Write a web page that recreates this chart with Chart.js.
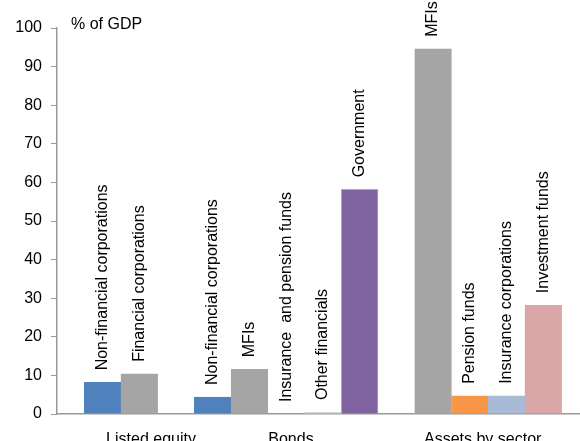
<!DOCTYPE html>
<html>
<head>
<meta charset="utf-8">
<script src="https://cdn.jsdelivr.net/npm/chart.js@4/dist/chart.umd.min.js"></script>
<style>
  html, body { margin: 0; padding: 0; background: #fff; }
  #wrap { width: 580px; height: 441px; position: relative; }
</style>
</head>
<body>
<div id="wrap"><canvas id="chart"></canvas></div>
<script>
// Chart data
const groups = ['Listed equity', 'Bonds', 'Assets by sector'];
const barGroup = [0, 0, 1, 1, 1, 1, 1, 2, 2, 2, 2];
const barLabels = [
  'Non-financial corporations', 'Financial corporations',
  'Non-financial corporations', 'MFIs', 'Insurance  and pension funds', 'Other financials', 'Government',
  'MFIs', 'Pension funds', 'Insurance corporations', 'Investment funds'
];
const values = [8.2, 10.4, 4.4, 11.6, 0, 0.5, 58.2, 94.6, 4.7, 4.7, 28.2];
const yTicks = [0, 10, 20, 30, 40, 50, 60, 70, 80, 90, 100];

const barColors = ['#4f81bd', '#a5a5a5', '#4f81bd', '#a5a5a5', '#a5a5a5', '#d9d9d9', '#8064a2',
  '#a5a5a5', '#f79646', '#a9bad6', '#d9a7a7'];
const barBorders = ['#4f81bd', '#a5a5a5', '#4f81bd', '#a5a5a5', '#a5a5a5', '#d9d9d9', '#b6a6cf',
  '#a5a5a5', '#f79646', '#a9bad6', '#d9a7a7'];

const FONT = '"Liberation Sans", Arial, sans-serif';
const AXIS = '#9a9a9a';

// one empty slot before each group
const points = values.map((v, k) => ({ x: k + 1 + barGroup[k], y: v }));

const barTextPlugin = {
  id: 'barText',
  afterDatasetsDraw(chart) {
    const ctx = chart.ctx;
    const meta = chart.getDatasetMeta(0);
    ctx.save();
    ctx.fillStyle = '#000';
    ctx.font = '16px ' + FONT;
    meta.data.forEach((bar, k) => {
      ctx.save();
      ctx.translate(bar.x, bar.y - 12);
      ctx.rotate(-Math.PI / 2);
      ctx.textAlign = 'left';
      ctx.textBaseline = 'middle';
      ctx.fillText(barLabels[k], 0, 0);
      ctx.restore();
    });
    // unit label
    ctx.textAlign = 'left';
    ctx.textBaseline = 'alphabetic';
    ctx.fillText('% of GDP', 71, 29);
    ctx.restore();
  }
};

new Chart(document.getElementById('chart'), {
  type: 'bar',
  data: {
    datasets: [{
      data: points,
      backgroundColor: barColors,
      borderColor: barBorders,
      borderWidth: 1,
      barPercentage: 1,
      categoryPercentage: 1
    }]
  },
  options: {
    responsive: true,
    maintainAspectRatio: false,
    animation: false,
    layout: { padding: { top: 28, right: 0, left: 0, bottom: 0 } },
    plugins: { legend: { display: false }, tooltip: { enabled: false } },
    scales: {
      x: {
        type: 'linear',
        offset: false,
        min: -0.24,
        max: 14,
        afterFit: (scale) => { scale.height = 27; },
        afterBuildTicks: (scale) => {
          scale.ticks = [2.32, 6.13, 11.35].map(v => ({ value: v }));
        },
        grid: { display: false, offset: false },
        border: { display: true, color: AXIS, width: 1.5 },
        ticks: {
          autoSkip: false,
          maxRotation: 0,
          padding: 8,
          color: '#000',
          font: { family: FONT, size: 16 },
          callback: (v, i) => groups[i]
        }
      },
      y: {
        min: 0,
        max: 100,
        afterFit: (scale) => { scale.width = 57; },
        afterBuildTicks: (scale) => {
          scale.ticks = yTicks.map(v => ({ value: v }));
        },
        grid: { drawOnChartArea: false, drawTicks: true, tickLength: 6, color: AXIS, lineWidth: 1 },
        border: { display: true, color: AXIS, width: 1.5 },
        ticks: {
          padding: 9,
          color: '#000',
          font: { family: FONT, size: 16 }
        }
      }
    }
  },
  plugins: [barTextPlugin]
});
</script>
</body>
</html>
